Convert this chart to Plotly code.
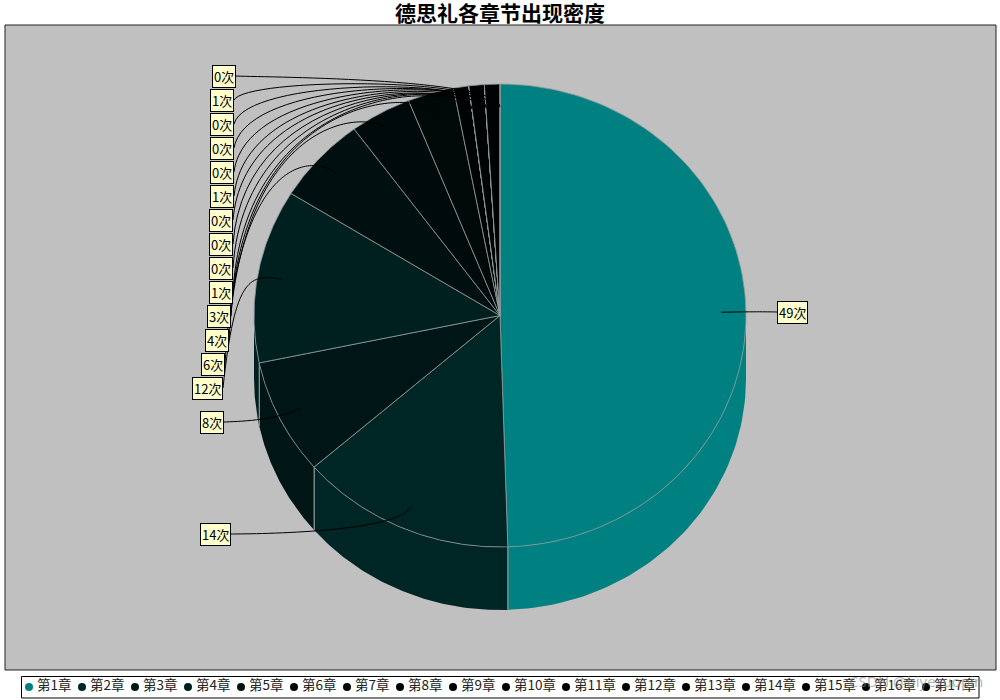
import numpy as np
import plotly.graph_objects as go

# chapter names and how many times the name turns up in each
chapters = ['第1章', '第2章', '第3章', '第4章', '第5章', '第6章', '第7章', '第8章', '第9章',
            '第10章', '第11章', '第12章', '第13章', '第14章', '第15章', '第16章', '第17章']
counts = [49, 14, 8, 12, 6, 4, 3, 1, 0, 0, 0, 1, 0, 0, 0, 1, 0]

# where the label boxes sit (edge next to the pie, vertical centre)
label_edge = [777, 231, 224, 223, 225, 229, 231, 233, 233, 233, 233, 234, 234, 234, 234, 234, 236]
label_y = [312, 534, 422, 388, 364, 340, 316, 292, 268, 244, 220, 196, 172, 148, 124, 100, 76]

# pie geometry in page pixels
cx, cy = 500, 315.5
rx, ry = 246, 231.5
depth = 63
edge_grey = '#8f9c9c'


def colour(v):
    g = round(128 * v / max(counts))
    return f'rgb(0,{g},{g})'


def ring(deg, r=1.0):
    t = np.radians(deg)
    return cx + rx * r * np.sin(t), cy - ry * r * np.cos(t)


fig = go.Figure()

total = sum(counts)
ends = np.cumsum(counts) / total * 360
starts = ends - np.array(counts) / total * 360

# side wall first, only the front half of the pie shows it
for v, a0, a1 in zip(counts, starts, ends):
    lo, hi = max(a0, 90), min(a1, 270)
    if hi <= lo:
        continue
    x, y = ring(np.linspace(lo, hi, 60))
    fig.add_trace(go.Scatter(x=np.r_[x, x[::-1]], y=np.r_[y, y[::-1] + depth], mode='lines',
                             fill='toself', fillcolor=colour(v), line=dict(width=0),
                             showlegend=False, hoverinfo='skip'))
    for a in (a0, a1):
        if 90 < a < 270:
            ex, ey = ring(a)
            fig.add_trace(go.Scatter(x=[ex, ex], y=[ey, ey + depth], mode='lines',
                                     line=dict(color=edge_grey, width=1),
                                     showlegend=False, hoverinfo='skip'))

# top face
for v, a0, a1 in zip(counts, starts, ends):
    x, y = ring(np.linspace(a0, a1, 90))
    fig.add_trace(go.Scatter(x=np.r_[cx, x, cx], y=np.r_[cy, y, cy], mode='lines',
                             fill='toself', fillcolor=colour(v),
                             line=dict(color=edge_grey, width=0.8),
                             showlegend=False, hoverinfo='skip'))

# label boxes and their curved leader lines
leaders = []
boxes = []
for v, a0, a1, lx, ly in zip(counts, starts, ends, label_edge, label_y):
    mid = (a0 + a1) / 2
    px, py = ring(mid, 0.9)
    ex, ey = ring(mid, 1.03)
    side = 12 if lx < cx else -12
    leaders.append(dict(type='path', xref='x', yref='y', layer='above',
                        path=f'M {px:.1f} {py:.1f} C {ex:.1f} {ey:.1f} {lx + side} {ey:.1f} {lx} {ly}',
                        line=dict(color='black', width=1)))
    boxes.append(dict(x=lx, y=ly, xref='x', yref='y', text=f'{v}次', showarrow=False,
                      xanchor='right' if lx < cx else 'left', yanchor='middle',
                      font=dict(family='Noto Sans CJK SC', size=13, color='black'),
                      bgcolor='#FFFFCC', bordercolor='black', borderwidth=1, borderpad=1))

# legend strip along the bottom
legend_x = []
pos = 29
for name in chapters:
    legend_x.append(pos)
    pos += 53 if len(name) == 3 else 60

fig.add_trace(go.Scatter(x=legend_x, y=[687] * len(chapters), mode='markers',
                         marker=dict(color=[colour(v) for v in counts], size=8),
                         showlegend=False, hoverinfo='skip'))
fig.add_trace(go.Scatter(x=[p + 8 for p in legend_x], y=[687] * len(chapters), mode='text',
                         text=chapters, textposition='middle right',
                         textfont=dict(family='Noto Sans CJK SC', size=13.5, color='#222222'),
                         showlegend=False, hoverinfo='skip'))

backdrop = [
    dict(type='rect', xref='x', yref='y', x0=5, y0=25, x1=996, y1=670, layer='below',
         fillcolor='#C0C0C0', line=dict(color='#222222', width=1)),
    dict(type='rect', xref='x', yref='y', x0=21.5, y0=676.5, x1=979, y1=698, layer='below',
         fillcolor='white', line=dict(color='black', width=1)),
]

watermark = dict(x=985, y=681, xref='x', yref='y', text='CSDN @biyezuopin', showarrow=False,
                 xanchor='right', yanchor='middle',
                 font=dict(family='Noto Sans', size=15, color='rgba(130,130,130,0.6)'))

fig.update_layout(
    width=1000, height=700,
    margin=dict(l=0, r=0, t=0, b=0),
    title=dict(text='<b>德思礼各章节出现密度</b>', x=0.5, y=1 - 14 / 700, xanchor='center', yanchor='middle',
               font=dict(family='Noto Sans CJK SC', size=21, color='black')),
    paper_bgcolor='white', plot_bgcolor='white',
    showlegend=False,
    shapes=backdrop + leaders,
    annotations=boxes + [watermark],
)
fig.update_xaxes(range=[0, 1000], visible=False)
fig.update_yaxes(range=[700, 0], visible=False)

fig.write_html('out.html', config=dict(displayModeBar=False),
               post_script="document.body.style.margin='0';")
